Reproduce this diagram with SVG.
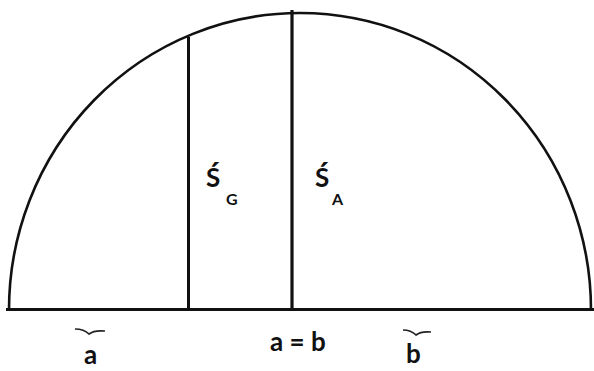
<svg xmlns="http://www.w3.org/2000/svg" width="594" height="371" viewBox="0 0 594 371">
<style>
.ln{fill:none;stroke:#111;stroke-linecap:butt}
.t{font-family:Lato,"Liberation Sans",sans-serif;font-weight:bold;fill:#111}
.big{font-size:26px}
.sub{font-size:16px}
.mk{fill:none;stroke:#222;stroke-width:1.7}
</style>
<rect width="594" height="371" fill="#fff"/>
<g id="shape">
<path class="ln" stroke-width="2.6" d="M 9 310 A 291 297 0 0 1 591 310"/>
<line class="ln" stroke-width="3" x1="6" y1="309.5" x2="594" y2="309.5"/>
<line class="ln" stroke-width="3" x1="188.5" y1="311" x2="188.5" y2="37"/>
<line class="ln" stroke-width="3.2" x1="292" y1="311" x2="292" y2="10"/>
</g>
<g id="labels">
<text class="t big" x="206" y="187">Ś</text>
<text class="t sub" x="226" y="205">G</text>
<text class="t big" x="315" y="187">Ś</text>
<text class="t sub" x="332" y="205">A</text>
<text class="t big" x="270" y="351">a = b</text>
<text class="t big" x="84" y="364">a</text>
<text class="t big" x="406" y="363">b</text>
</g>
<g id="marks">
<path class="mk" d="M 75 329 Q 84 329 89 334 Q 94 330 105 331"/>
<path class="mk" d="M 403 330 Q 411 330 416 335 Q 421 331 431 332"/>
</g>
</svg>
